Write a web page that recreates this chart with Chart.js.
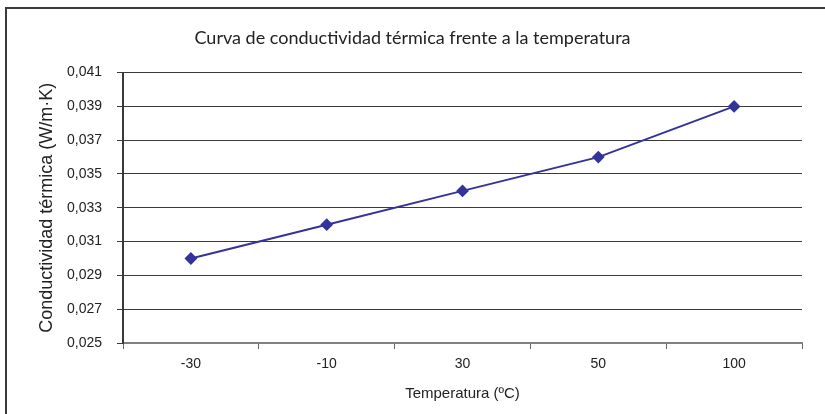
<!DOCTYPE html>
<html>
<head>
<meta charset="utf-8">
<script src="https://cdn.jsdelivr.net/npm/chart.js@4/dist/chart.umd.min.js"></script>
<style>
  html, body { margin: 0; padding: 0; background: #fff; }
  #wrap { position: relative; width: 825px; height: 414px; overflow: hidden; }
  #frame { position: absolute; left: 5px; top: 7px; width: 900px; height: 500px;
           border-top: 2px solid #3a3a3a; border-left: 2px solid #3a3a3a; pointer-events: none; }
  canvas { position: absolute; left: 0; top: 0; }
</style>
</head>
<body>
<div id="wrap">
  <canvas id="c" width="825" height="414"></canvas>
  <div id="frame"></div>
</div>
<script>
const categories = ['-30', '-10', '30', '50', '100'];
const conductividad = [0.030, 0.032, 0.034, 0.036, 0.039];
const chartTitle = 'Curva de conductividad térmica frente a la temperatura';
const xTitle = 'Temperatura (ºC)';
const yTitle = 'Conductividad térmica (W/m·K)';
const yMin = 0.025, yMax = 0.041, yStep = 0.002;

const SANS = "'Liberation Sans', Arial, sans-serif";

new Chart(document.getElementById('c'), {
  type: 'line',
  data: {
    labels: categories,
    datasets: [{
      data: conductividad,
      borderColor: '#333399',
      backgroundColor: '#333399',
      borderWidth: 2,
      pointStyle: 'rectRot',
      pointRadius: 5,
      pointHoverRadius: 5,
      tension: 0
    }]
  },
  options: {
    responsive: false,
    animation: false,
    events: [],
    layout: { padding: { left: 23, right: 23, top: 0, bottom: 0 } },
    plugins: {
      legend: { display: false },
      tooltip: { enabled: false },
      title: {
        display: true,
        text: chartTitle,
        color: '#222',
        font: { family: "Lato, sans-serif", size: 18, weight: 'normal' },
        padding: { top: 27, bottom: 24 }
      }
    },
    scales: {
      x: {
        offset: true,
        grid: {
          offset: true,
          color: (ctx) => ctx.index === categories.length ? '#3a3a3a' : 'rgba(0,0,0,0)',
          tickColor: '#666',
          tickLength: 6,
          lineWidth: 1
        },
        border: { color: '#808080', width: 2 },
        ticks: {
          color: '#222',
          font: { family: SANS, size: 14 },
          padding: 7,
          maxRotation: 0
        },
        title: {
          display: true,
          text: xTitle,
          color: '#222',
          font: { family: SANS, size: 15 },
          padding: { top: 11, bottom: 11 }
        },
        afterFit: (s) => { s.height = 71; }
      },
      y: {
        min: yMin,
        max: yMax,
        grid: {
          color: '#3a3a3a',
          tickColor: '#3a3a3a',
          tickLength: 6,
          lineWidth: 1
        },
        border: { color: '#3a3a3a', width: 2 },
        ticks: {
          stepSize: yStep,
          color: '#222',
          font: { family: SANS, size: 14 },
          padding: 15,
          callback: (v) => Number(v).toFixed(3).replace('.', ',')
        },
        title: {
          display: true,
          text: yTitle,
          color: '#222',
          font: { family: SANS, size: 18 },
          padding: { top: 13, bottom: 13 }
        },
        afterFit: (s) => { s.width = 100; }
      }
    }
  }
});
</script>
</body>
</html>
